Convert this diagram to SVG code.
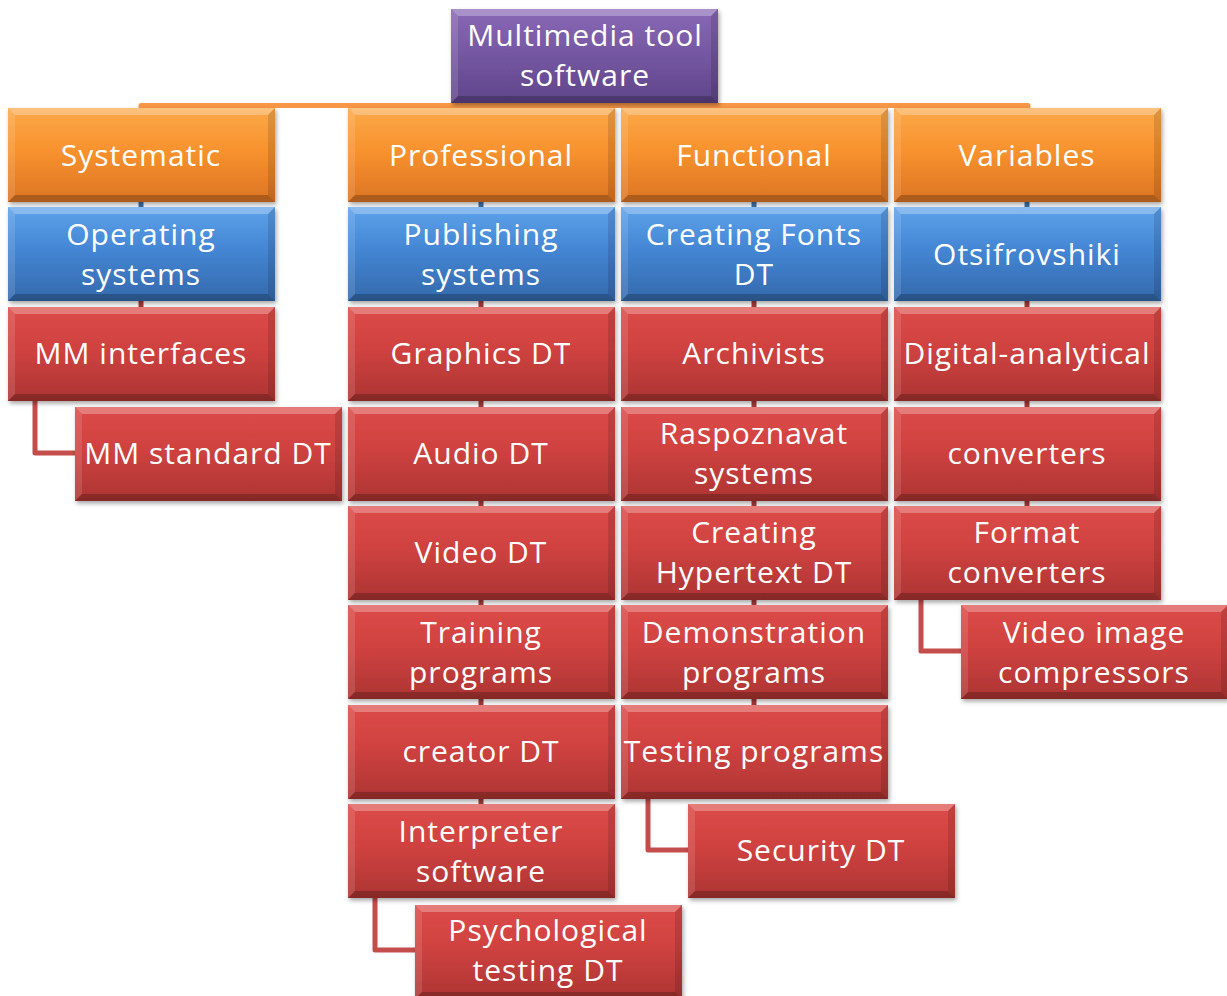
<svg xmlns="http://www.w3.org/2000/svg" xmlns:xlink="http://www.w3.org/1999/xlink" width="1227" height="996" viewBox="0 0 1227 996">
  <style>
    text { font-family: "Open Sans", "Liberation Sans", sans-serif; font-size: 30px; letter-spacing: 1px; fill: #ffffff; text-anchor: middle; }
    .hl { fill: #ffffff; fill-opacity: 0.28; }
    .hs { fill: #ffffff; fill-opacity: 0.12; }
    .dk { fill: #000000; fill-opacity: 0.12; }
    .dd { fill: #000000; fill-opacity: 0.22; }
    .box { filter: url(#shadow); }
    .bar { fill: none; stroke: #f79646; stroke-width: 5; stroke-linejoin: round; }
    .stub-b { stroke: #3f6ea8; stroke-width: 5; }
    .stub-r { stroke: #a83a38; stroke-width: 5; }
    .elbow { fill: none; stroke: #c24d4b; stroke-width: 5; stroke-linejoin: round; }
  </style>
  <defs>
    <filter id="shadow" x="-5%" y="-5%" width="112%" height="120%">
      <feDropShadow dx="1.5" dy="2.5" stdDeviation="2" flood-color="#000" flood-opacity="0.35"/>
    </filter>
    <linearGradient id="g-orange" x1="0" y1="0" x2="0" y2="1">
      <stop offset="0" stop-color="#fba94a"/>
      <stop offset="0.45" stop-color="#f8922e"/>
      <stop offset="1" stop-color="#dc7423"/>
    </linearGradient>
    <linearGradient id="g-blue" x1="0" y1="0" x2="0" y2="1">
      <stop offset="0" stop-color="#5ea2ea"/>
      <stop offset="0.45" stop-color="#4486d4"/>
      <stop offset="1" stop-color="#3469ac"/>
    </linearGradient>
    <linearGradient id="g-red" x1="0" y1="0" x2="0" y2="1">
      <stop offset="0" stop-color="#dc4a48"/>
      <stop offset="0.45" stop-color="#cf4240"/>
      <stop offset="1" stop-color="#ad3433"/>
    </linearGradient>
    <linearGradient id="g-purple" x1="0" y1="0" x2="0" y2="1">
      <stop offset="0" stop-color="#8a69b6"/>
      <stop offset="0.45" stop-color="#7658a3"/>
      <stop offset="1" stop-color="#5f4589"/>
    </linearGradient>
    <!-- bevelled box, 267 x 94 -->
    <g id="bevel">
      <polygon class="hl" points="0,0 267,0 260,7 7,7"/>
      <polygon class="hs" points="0,0 7,7 7,87 0,94"/>
      <polygon class="dk" points="267,0 267,94 260,87 260,7"/>
      <polygon class="dd" points="0,94 7,87 260,87 267,94"/>
    </g>
    <g id="box-orange"><rect width="267" height="94" fill="url(#g-orange)"/><use href="#bevel"/></g>
    <g id="box-blue"><rect width="267" height="94" fill="url(#g-blue)"/><use href="#bevel"/></g>
    <g id="box-red"><rect width="267" height="94" fill="url(#g-red)"/><use href="#bevel"/></g>
    <g id="box-purple"><rect width="267" height="94" fill="url(#g-purple)"/><use href="#bevel"/></g>
  </defs>

  <rect width="1227" height="996" fill="#ffffff"/>

  <!-- connectors -->
  <g id="connectors">
    <polyline class="bar" points="141,110 141,105.5 1028,105.5 1028,110"/>
    <line class="bar" x1="585" y1="100" x2="585" y2="106"/>
    <line class="stub-b" x1="141" y1="200" x2="141" y2="210"/>
    <line class="stub-b" x1="481" y1="200" x2="481" y2="210"/>
    <line class="stub-b" x1="754" y1="200" x2="754" y2="210"/>
    <line class="stub-b" x1="1027" y1="200" x2="1027" y2="210"/>
    <line class="stub-r" x1="141" y1="300" x2="141" y2="310"/>
    <line class="stub-r" x1="481" y1="300" x2="481" y2="807"/>
    <line class="stub-r" x1="754" y1="300" x2="754" y2="708"/>
    <line class="stub-r" x1="1027" y1="300" x2="1027" y2="509"/>
    <polyline class="elbow" points="35,401 35,453 78,453"/>
    <polyline class="elbow" points="375,898 375,950 418,950"/>
    <polyline class="elbow" points="648,799 648,850 691,850"/>
    <polyline class="elbow" points="921,600 921,651 964,651"/>
  </g>

  <!-- root -->
  <g id="n-root"><use class="box" href="#box-purple" x="451" y="9"/><text x="585" y="46">Multimedia tool</text><text x="585" y="86">software</text></g>

  <!-- level 1 -->
  <g id="n-systematic"><use class="box" href="#box-orange" x="8" y="108"/><text x="141" y="166">Systematic</text></g>
  <g id="n-professional"><use class="box" href="#box-orange" x="348" y="108"/><text x="481" y="166">Professional</text></g>
  <g id="n-functional"><use class="box" href="#box-orange" x="621" y="108"/><text x="754" y="166">Functional</text></g>
  <g id="n-variables"><use class="box" href="#box-orange" x="894" y="108"/><text x="1027" y="166">Variables</text></g>

  <!-- level 2 -->
  <g id="n-operating"><use class="box" href="#box-blue" x="8" y="207"/><text x="141" y="245">Operating</text><text x="141" y="285">systems</text></g>
  <g id="n-publishing"><use class="box" href="#box-blue" x="348" y="207"/><text x="481" y="245">Publishing</text><text x="481" y="285">systems</text></g>
  <g id="n-fonts"><use class="box" href="#box-blue" x="621" y="207"/><text x="754" y="245">Creating Fonts</text><text x="754" y="285">DT</text></g>
  <g id="n-otsifrovshiki"><use class="box" href="#box-blue" x="894" y="207"/><text x="1027" y="265">Otsifrovshiki</text></g>

  <!-- column: Systematic -->
  <g id="n-mm-interfaces"><use class="box" href="#box-red" x="8" y="307"/><text x="141" y="364">MM interfaces</text></g>
  <g id="n-mm-standard"><use class="box" href="#box-red" x="75" y="407"/><text x="208" y="464">MM standard DT</text></g>

  <!-- column: Professional -->
  <g id="n-graphics"><use class="box" href="#box-red" x="348" y="307"/><text x="481" y="364">Graphics DT</text></g>
  <g id="n-audio"><use class="box" href="#box-red" x="348" y="407"/><text x="481" y="464">Audio DT</text></g>
  <g id="n-video"><use class="box" href="#box-red" x="348" y="506"/><text x="481" y="563">Video DT</text></g>
  <g id="n-training"><use class="box" href="#box-red" x="348" y="605"/><text x="481" y="643">Training</text><text x="481" y="683">programs</text></g>
  <g id="n-creator"><use class="box" href="#box-red" x="348" y="705"/><text x="481" y="762">creator DT</text></g>
  <g id="n-interpreter"><use class="box" href="#box-red" x="348" y="804"/><text x="481" y="842">Interpreter</text><text x="481" y="882">software</text></g>
  <g id="n-psychological"><use class="box" href="#box-red" x="415" y="905"/><text x="548" y="941">Psychological</text><text x="548" y="981">testing DT</text></g>

  <!-- column: Functional -->
  <g id="n-archivists"><use class="box" href="#box-red" x="621" y="307"/><text x="754" y="364">Archivists</text></g>
  <g id="n-raspoznavat"><use class="box" href="#box-red" x="621" y="407"/><text x="754" y="444">Raspoznavat</text><text x="754" y="484">systems</text></g>
  <g id="n-hypertext"><use class="box" href="#box-red" x="621" y="506"/><text x="754" y="543">Creating</text><text x="754" y="583">Hypertext DT</text></g>
  <g id="n-demonstration"><use class="box" href="#box-red" x="621" y="605"/><text x="754" y="643">Demonstration</text><text x="754" y="683">programs</text></g>
  <g id="n-testing"><use class="box" href="#box-red" x="621" y="705"/><text x="754" y="762">Testing programs</text></g>
  <g id="n-security"><use class="box" href="#box-red" x="688" y="804"/><text x="821" y="861">Security DT</text></g>

  <!-- column: Variables -->
  <g id="n-digital"><use class="box" href="#box-red" x="894" y="307"/><text x="1027" y="364">Digital-analytical</text></g>
  <g id="n-converters"><use class="box" href="#box-red" x="894" y="407"/><text x="1027" y="464">converters</text></g>
  <g id="n-format"><use class="box" href="#box-red" x="894" y="506"/><text x="1027" y="543">Format</text><text x="1027" y="583">converters</text></g>
  <g id="n-compressors"><use class="box" href="#box-red" x="961" y="605"/><text x="1094" y="643">Video image</text><text x="1094" y="683">compressors</text></g>
</svg>
